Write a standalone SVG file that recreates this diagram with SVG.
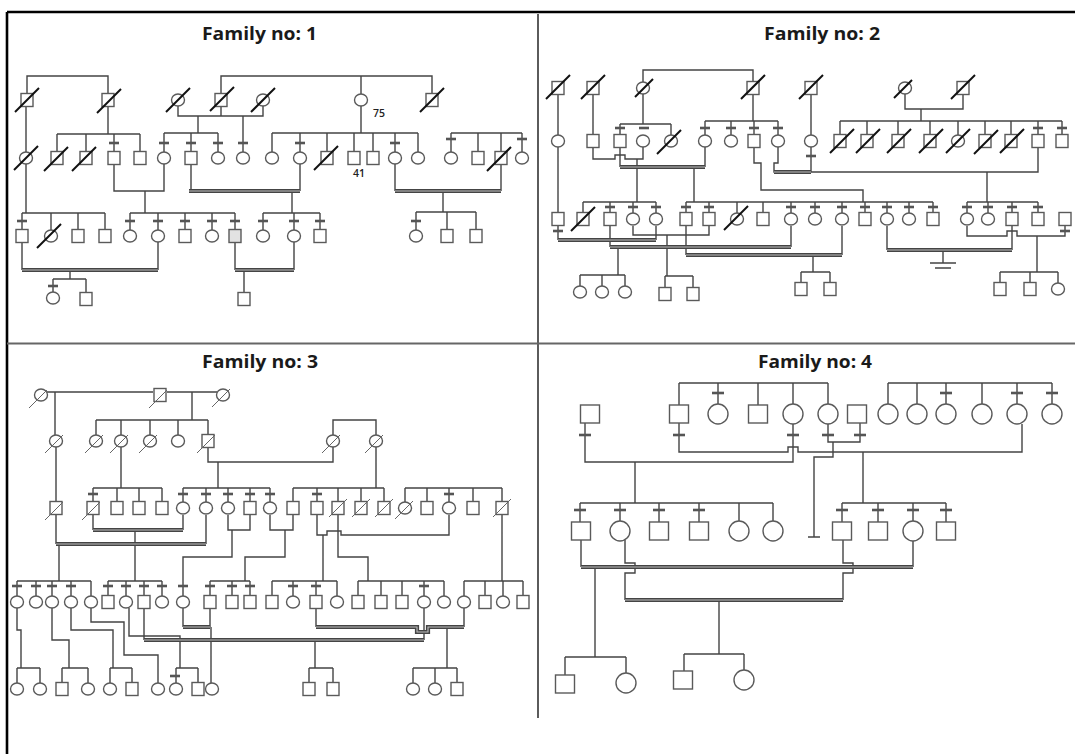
<svg xmlns="http://www.w3.org/2000/svg" xmlns:xlink="http://www.w3.org/1999/xlink" width="1075" height="754" viewBox="0 0 1075 754">
<style>
.n{fill:#fff;stroke:#5a5a5a;stroke-width:1.4}
.gy{fill:#e2e2e2;stroke:#5a5a5a;stroke-width:1.4}
.k{stroke:#111;stroke-width:2}
.k3{stroke:#666;stroke-width:1}
.tk{stroke:#555;stroke-width:2.6}
#connectors path{fill:none;stroke:#444;stroke-width:1.4}
#connectors path.dbl{stroke:#444;stroke-width:4.2}
#connectors path.dbi{stroke:#bdbdbd;stroke-width:1.1}
.ttl{font-family:"Open Sans","Liberation Sans",sans-serif;font-weight:700;font-size:18px;fill:#1a1a1a}
.lbl{font-family:"Open Sans","Liberation Sans",sans-serif;font-weight:600;font-size:10.5px;fill:#222}
</style>
<defs>
<rect id="s" x="-6" y="-6.5" width="12" height="13"/>
<ellipse id="c" rx="6.5" ry="6"/>
<rect id="S" x="-9.5" y="-9" width="19" height="18"/>
<circle id="C" r="10"/>
<line id="d" x1="-12" y1="12" x2="12" y2="-12"/>
<line id="e" x1="-9" y1="9" x2="9" y2="-9"/>
<line id="t" x1="-5" y1="0" x2="5" y2="0"/>
<line id="T" x1="-6" y1="0" x2="6" y2="0"/>
</defs>
<rect width="1075" height="754" fill="#fff"/>
<g id="frame">
<path d="M7 12H1075M7 12V754" stroke="#000" stroke-width="2.6" fill="none"/>
<path d="M538 14V718" stroke="#333" stroke-width="1.6"/>
<path d="M7 343.5H1075" stroke="#666" stroke-width="2"/>
</g>
<g id="titles">
<text class="ttl" x="259.5" y="40" text-anchor="middle" textLength="115" lengthAdjust="spacingAndGlyphs">Family no: 1</text>
<text class="ttl" x="822" y="40" text-anchor="middle" textLength="116" lengthAdjust="spacingAndGlyphs">Family no: 2</text>
<text class="ttl" x="260" y="368" text-anchor="middle" textLength="116" lengthAdjust="spacingAndGlyphs">Family no: 3</text>
<text class="ttl" x="815" y="368" text-anchor="middle" textLength="114" lengthAdjust="spacingAndGlyphs">Family no: 4</text>
</g>
<g id="connectors">
<path d="M27 94V76H108V94M221 94V76H432V94M361 76V94M178 106V116H263V106M221 106V116M198 116V133M243 116V152M361 106V133M26 106V152M26 164V213M108 106V134"/>
<path d="M57 134H140M57 134V152M86 134V152M114 134V152M140 134V152M164 133H218M164 133V152M191 133V152M218 133V152M272 133H418M272 133V152M300 133V152M327 133V152M354 133V152M373 133V152M395 133V152M418 133V152M451 133H522M451 133V152M478 133V152M501 133V152M522 133V152"/>
<path d="M114 164V191H164V164M145 191V213M191 164V191M300 164V191M292 191V213M395 164V191M501 164V191M443 191V212"/>
<path d="M22 213H105M22 213V230M51 213V230M78 213V230M105 213V230M130 213H235M130 213V230M158 213V230M185 213V230M212 213V230M235 213V230M263 213H320M263 213V230M294 213V230M320 213V230M416 212H476M416 212V230M447 212V230M476 212V230"/>
<path d="M22 242V270M158 242V270M70 270V279M53 279H86M53 279V292M86 279V292M235 242V270M294 242V270M244 270V292"/>
<path class="dbl" d="M189 191H300M395 191H501M22 270H158M235 270H294"/>
<path class="dbi" d="M189 191H300M395 191H501M22 270H158M235 270H294"/>
<path d="M643 82V70H753V82M558 94V135M593 94V135M643 94V124M620 124H671M620 124V135M671 124V135M753 94V121M705 121H778M705 121V135M731 121V135M754 121V135M778 121V135M811 94V135M905 94V109H963V94M921 109V121M840 121H1062M840 121V135M867 121V135M898 121V135M930 121V135M958 121V135M985 121V135M1011 121V135M1038 121V135M1062 121V135"/>
<path d="M558 147V213M593 147V159H615V155H625V159H643V147M637 159V202M620 147V167M705 147V167M694 167V202M754 147V163H761V190H863V202M778 147V163H774V172H1038V147M811 147V172M987 172V202"/>
<path d="M583 202H656M583 202V213M610 202V213M633 202V213M656 202V213M686 202H933M686 202V213M709 202V213M737 202V213M763 202V213M791 202V213M815 202V213M842 202V213M865 202V213M887 202V213M909 202V213M933 202V213M967 202H1038M967 202V213M988 202V213M1012 202V213M1038 202V213"/>
<path d="M558 226V240M656 226V240M633 226V235H709V226M610 226V247M791 226V247M618 247V275M580 275H625M580 275V286M602 275V286M625 275V286M686 226V255M842 226V255M813 255V272M801 272H830M801 272V283M830 272V283M667 235V276M665 276H693M665 276V288M693 276V288M887 226V250M1012 226V250M943 250V263M930 263H956M935 268H951M967 226V236H1007V231H1017V236H1065V226M1037 236V272M1000 272H1058M1000 272V283M1030 272V283M1058 272V283"/>
<path class="dbl" d="M620 167H705M774 172H811M558 240H656M610 247H791M686 255H842M887 250H1012"/>
<path class="dbi" d="M620 167H705M774 172H811M558 240H656M610 247H791M686 255H842M887 250H1012"/>
<path d="M47 392H153M167 392H217M55 392V435M192 392V420M96 420H208M96 420V435M121 420V435M150 420V435M178 420V435M208 420V435M56 447V502M333 435V420H376V435"/>
<path d="M121 447V488M93 488H162M93 488V502M117 488V502M139 488V502M162 488V502M208 447V462H333V447M218 462V488M183 488H270M183 488V502M206 488V502M228 488V502M250 488V502M270 488V502M376 447V488M293 488H384M293 488V502M317 488V502M338 488V502M361 488V502M384 488V502M405 488H502M405 488V502M427 488V502M449 488V502M473 488V502M502 488V502"/>
<path d="M56 515V544M206 515V544M93 515V530M183 515V530M135 530V581M108 581H162M108 581V596M126 581V596M144 581V596M162 581V596M59 544V581M17 581H91M17 581V596M36 581V596M52 581V596M71 581V596M91 581V596"/>
<path d="M228 515V530H250V515M232 530V557H183V596M270 515V530H293V515M285 530V557H245V581M210 581H250M210 581V596M232 581V596M250 581V596M317 515V535H327V531H341V535H449V515M323 535V581M272 581H337M272 581V596M293 581V596M316 581V596M337 581V596M338 515V557H368V581M358 581H444M358 581V596M381 581V596M402 581V596M424 581V596M444 581V596M502 515V581M464 581H523M464 581V596M485 581V596M503 581V596M523 581V596"/>
<path d="M17 608V630H21V668M17 668H40M17 668V683M40 668V683M52 608V640H69V668M62 668H88M62 668V683M88 668V683M71 608V630H113V668M110 668H132M110 668V683M132 668V683M91 608V622H124V655H158V683M129 608V636H180V668M176 668H198M176 668V683M198 668V683M183 608V627M210 608V627M211 627V683M144 608V640M424 608V640M315 640V668M309 668H333M309 668V683M333 668V683M316 608V627M464 608V627M447 627V668M413 668H457M413 668V683M435 668V683M457 668V683"/>
<path class="dbl" d="M56 544H206M93 530H183M183 627H210M144 640H424M316 627H417V632H428V627H464"/>
<path class="dbi" d="M56 544H206M93 530H183M183 627H210M144 640H424M316 627H417V632H428V627H464"/>
<path d="M679 383H828M679 383V405M718 383V404M758 383V405M793 383V404M828 383V404M888 383H1052M888 383V404M917 383V404M946 383V404M982 383V404M1017 383V404M1052 383V404"/>
<path d="M585 423V462H793V424M679 423V452H788V447H798V452H1022V424M828 424V442H860V423M833 442V457H814V537M808 537H820M635 462V503M580 503H773M580 503V522M620 503V521M659 503V522M699 503V522M739 503V521M773 503V521M863 452V503M842 503H946M842 503V522M878 503V522M913 503V521M946 503V522"/>
<path d="M581 540V567M913 541V567M625 540V563H635V573H625V600M843 540V563H853V573H843V600M595 567V657M565 657H626M565 657V675M626 657V673M719 600V654M684 654H744M684 654V671M744 654V670"/>
<path class="dbl" d="M581 567H913M625 600H843"/>
<path class="dbi" d="M581 567H913M625 600H843"/>
</g>
<g id="family1">
<g id="f1-a1"><use href="#s" x="27" y="100" class="n"/><use href="#d" x="27" y="100" class="k"/></g>
<g id="f1-a2"><use href="#s" x="108" y="100" class="n"/><use href="#d" x="109" y="101" class="k"/></g>
<g id="f1-a3"><use href="#c" x="178" y="100" class="n"/><use href="#d" x="178" y="100" class="k"/></g>
<g id="f1-a4"><use href="#s" x="221" y="100" class="n"/><use href="#d" x="222" y="99" class="k"/></g>
<g id="f1-a5"><use href="#c" x="263" y="100" class="n"/><use href="#d" x="263" y="100" class="k"/></g>
<g id="f1-a6"><use href="#c" x="361" y="100" class="n"/><text class="lbl" x="373" y="117">75</text></g>
<g id="f1-a7"><use href="#s" x="432" y="100" class="n"/><use href="#d" x="432" y="100" class="k"/></g>
<g id="f1-b1"><use href="#c" x="26" y="158" class="n"/><use href="#d" x="26" y="158" class="k"/></g>
<g id="f1-b2"><use href="#s" x="57" y="158" class="n"/><use href="#d" x="56" y="159" class="k"/></g>
<g id="f1-b3"><use href="#s" x="86" y="158" class="n"/><use href="#d" x="84" y="159" class="k"/></g>
<g id="f1-b4"><use href="#s" x="114" y="158" class="n"/><use href="#t" x="114" y="143" class="tk"/></g>
<g id="f1-b5"><use href="#s" x="140" y="158" class="n"/></g>
<g id="f1-b6"><use href="#c" x="164" y="158" class="n"/><use href="#t" x="164" y="143" class="tk"/></g>
<g id="f1-b7"><use href="#s" x="191" y="158" class="n"/><use href="#t" x="191" y="143" class="tk"/></g>
<g id="f1-b8"><use href="#c" x="218" y="158" class="n"/><use href="#t" x="218" y="143" class="tk"/></g>
<g id="f1-b9"><use href="#c" x="243" y="158" class="n"/><use href="#t" x="243" y="143" class="tk"/></g>
<g id="f1-b10"><use href="#c" x="272" y="158" class="n"/></g>
<g id="f1-b11"><use href="#c" x="300" y="158" class="n"/><use href="#t" x="300" y="143" class="tk"/></g>
<g id="f1-b12"><use href="#s" x="327" y="158" class="n"/><use href="#d" x="326" y="158" class="k"/></g>
<g id="f1-b13"><use href="#s" x="354" y="158" class="n"/><text class="lbl" x="353" y="177">41</text></g>
<g id="f1-b14"><use href="#s" x="373" y="158" class="n"/></g>
<g id="f1-b15"><use href="#c" x="395" y="158" class="n"/><use href="#t" x="395" y="143" class="tk"/></g>
<g id="f1-b16"><use href="#c" x="418" y="158" class="n"/></g>
<g id="f1-b17"><use href="#c" x="451" y="158" class="n"/><use href="#t" x="451" y="139" class="tk"/></g>
<g id="f1-b18"><use href="#s" x="478" y="158" class="n"/></g>
<g id="f1-b19"><use href="#s" x="501" y="158" class="n"/><use href="#d" x="499" y="159" class="k"/></g>
<g id="f1-b20"><use href="#c" x="522" y="158" class="n"/><use href="#t" x="522" y="139" class="tk"/></g>
<g id="f1-c1"><use href="#s" x="22" y="236" class="n"/><use href="#t" x="22" y="221" class="tk"/></g>
<g id="f1-c2"><use href="#c" x="51" y="236" class="n"/><use href="#d" x="49" y="236" class="k"/></g>
<g id="f1-c3"><use href="#s" x="78" y="236" class="n"/></g>
<g id="f1-c4"><use href="#s" x="105" y="236" class="n"/></g>
<g id="f1-c5"><use href="#c" x="130" y="236" class="n"/><use href="#t" x="130" y="221" class="tk"/></g>
<g id="f1-c6"><use href="#c" x="158" y="236" class="n"/><use href="#t" x="158" y="221" class="tk"/></g>
<g id="f1-c7"><use href="#s" x="185" y="236" class="n"/><use href="#t" x="185" y="221" class="tk"/></g>
<g id="f1-c8"><use href="#c" x="212" y="236" class="n"/><use href="#t" x="212" y="221" class="tk"/></g>
<g id="f1-c9"><use href="#s" x="235" y="236" class="gy"/><use href="#t" x="235" y="221" class="tk"/></g>
<g id="f1-c10"><use href="#c" x="263" y="236" class="n"/><use href="#t" x="263" y="221" class="tk"/></g>
<g id="f1-c11"><use href="#c" x="294" y="236" class="n"/><use href="#t" x="294" y="221" class="tk"/></g>
<g id="f1-c12"><use href="#s" x="320" y="236" class="n"/><use href="#t" x="320" y="221" class="tk"/></g>
<g id="f1-c13"><use href="#c" x="416" y="236" class="n"/><use href="#t" x="416" y="221" class="tk"/></g>
<g id="f1-c14"><use href="#s" x="447" y="236" class="n"/></g>
<g id="f1-c15"><use href="#s" x="476" y="236" class="n"/></g>
<g id="f1-d1"><use href="#c" x="53" y="298" class="n"/><use href="#t" x="53" y="286" class="tk"/></g>
<g id="f1-d2"><use href="#s" x="86" y="299" class="n"/></g>
<g id="f1-d3"><use href="#s" x="244" y="299" class="n"/></g>
</g>
<g id="family2">
<g id="f2-e1"><use href="#s" x="558" y="88" class="n"/><use href="#d" x="558" y="87" class="k"/></g>
<g id="f2-e2"><use href="#s" x="593" y="88" class="n"/><use href="#d" x="593" y="87" class="k"/></g>
<g id="f2-e3"><use href="#c" x="643" y="88" class="n"/><use href="#e" x="644" y="88" class="k"/></g>
<g id="f2-e4"><use href="#s" x="753" y="88" class="n"/><use href="#d" x="753" y="87" class="k"/></g>
<g id="f2-e5"><use href="#s" x="811" y="88" class="n"/><use href="#d" x="811" y="87" class="k"/></g>
<g id="f2-e6"><use href="#c" x="905" y="88" class="n"/><use href="#e" x="903" y="89" class="k"/></g>
<g id="f2-e7"><use href="#s" x="963" y="88" class="n"/><use href="#d" x="963" y="87" class="k"/></g>
<g id="f2-f1"><use href="#c" x="558" y="141" class="n"/></g>
<g id="f2-f2"><use href="#s" x="593" y="141" class="n"/></g>
<g id="f2-f3"><use href="#s" x="620" y="141" class="n"/><use href="#t" x="620" y="128" class="tk"/></g>
<g id="f2-f4"><use href="#c" x="643" y="141" class="n"/><use href="#t" x="644" y="128" class="tk"/></g>
<g id="f2-f5"><use href="#c" x="671" y="141" class="n"/><use href="#d" x="669" y="142" class="k"/></g>
<g id="f2-f6"><use href="#c" x="705" y="141" class="n"/><use href="#t" x="705" y="128" class="tk"/></g>
<g id="f2-f7"><use href="#c" x="731" y="141" class="n"/><use href="#t" x="731" y="128" class="tk"/></g>
<g id="f2-f8"><use href="#s" x="754" y="141" class="n"/><use href="#t" x="754" y="128" class="tk"/></g>
<g id="f2-f9"><use href="#c" x="778" y="141" class="n"/><use href="#t" x="778" y="128" class="tk"/></g>
<g id="f2-f10"><use href="#c" x="811" y="141" class="n"/><use href="#t" x="811" y="156" class="tk"/></g>
<g id="f2-f11"><use href="#s" x="840" y="141" class="n"/><use href="#d" x="842" y="141" class="k"/></g>
<g id="f2-f12"><use href="#s" x="867" y="141" class="n"/><use href="#d" x="868" y="141" class="k"/></g>
<g id="f2-f13"><use href="#s" x="898" y="141" class="n"/><use href="#d" x="899" y="141" class="k"/></g>
<g id="f2-f14"><use href="#s" x="930" y="141" class="n"/><use href="#d" x="931" y="141" class="k"/></g>
<g id="f2-f15"><use href="#c" x="958" y="141" class="n"/><use href="#d" x="958" y="141" class="k"/></g>
<g id="f2-f16"><use href="#s" x="985" y="141" class="n"/><use href="#d" x="986" y="142" class="k"/></g>
<g id="f2-f17"><use href="#s" x="1011" y="141" class="n"/><use href="#d" x="1012" y="141" class="k"/></g>
<g id="f2-f18"><use href="#s" x="1038" y="141" class="n"/><use href="#t" x="1038" y="128" class="tk"/></g>
<g id="f2-f19"><use href="#s" x="1062" y="141" class="n"/><use href="#t" x="1062" y="128" class="tk"/></g>
<g id="f2-g1"><use href="#s" x="558" y="219" class="n"/><use href="#t" x="558" y="231" class="tk"/></g>
<g id="f2-g2"><use href="#s" x="583" y="219" class="n"/><use href="#d" x="583" y="219" class="k"/></g>
<g id="f2-g3"><use href="#s" x="610" y="219" class="n"/><use href="#t" x="610" y="207" class="tk"/></g>
<g id="f2-g4"><use href="#c" x="633" y="219" class="n"/><use href="#t" x="633" y="207" class="tk"/></g>
<g id="f2-g5"><use href="#c" x="656" y="219" class="n"/><use href="#t" x="656" y="207" class="tk"/></g>
<g id="f2-g6"><use href="#s" x="686" y="219" class="n"/><use href="#t" x="686" y="207" class="tk"/></g>
<g id="f2-g7"><use href="#s" x="709" y="219" class="n"/><use href="#t" x="709" y="207" class="tk"/></g>
<g id="f2-g8"><use href="#c" x="737" y="219" class="n"/><use href="#d" x="736" y="218" class="k"/></g>
<g id="f2-g9"><use href="#s" x="763" y="219" class="n"/></g>
<g id="f2-g10"><use href="#c" x="791" y="219" class="n"/><use href="#t" x="791" y="207" class="tk"/></g>
<g id="f2-g11"><use href="#c" x="815" y="219" class="n"/><use href="#t" x="815" y="207" class="tk"/></g>
<g id="f2-g12"><use href="#c" x="842" y="219" class="n"/><use href="#t" x="842" y="207" class="tk"/></g>
<g id="f2-g13"><use href="#s" x="865" y="219" class="n"/><use href="#t" x="865" y="207" class="tk"/></g>
<g id="f2-g14"><use href="#c" x="887" y="219" class="n"/><use href="#t" x="887" y="207" class="tk"/></g>
<g id="f2-g15"><use href="#c" x="909" y="219" class="n"/><use href="#t" x="909" y="207" class="tk"/></g>
<g id="f2-g16"><use href="#s" x="933" y="219" class="n"/><use href="#t" x="933" y="207" class="tk"/></g>
<g id="f2-g17"><use href="#c" x="967" y="219" class="n"/><use href="#t" x="967" y="207" class="tk"/></g>
<g id="f2-g18"><use href="#c" x="988" y="219" class="n"/><use href="#t" x="988" y="207" class="tk"/></g>
<g id="f2-g19"><use href="#s" x="1012" y="219" class="n"/><use href="#t" x="1012" y="207" class="tk"/></g>
<g id="f2-g20"><use href="#s" x="1038" y="219" class="n"/><use href="#t" x="1038" y="207" class="tk"/></g>
<g id="f2-g21"><use href="#s" x="1065" y="219" class="n"/><use href="#t" x="1065" y="231" class="tk"/></g>
<g id="f2-h1"><use href="#c" x="580" y="292" class="n"/></g>
<g id="f2-h2"><use href="#c" x="602" y="292" class="n"/></g>
<g id="f2-h3"><use href="#c" x="625" y="292" class="n"/></g>
<g id="f2-h4"><use href="#s" x="665" y="294" class="n"/></g>
<g id="f2-h5"><use href="#s" x="693" y="294" class="n"/></g>
<g id="f2-h6"><use href="#s" x="801" y="289" class="n"/></g>
<g id="f2-h7"><use href="#s" x="830" y="289" class="n"/></g>
<g id="f2-h8"><use href="#s" x="1000" y="289" class="n"/></g>
<g id="f2-h9"><use href="#s" x="1030" y="289" class="n"/></g>
<g id="f2-h10"><use href="#c" x="1058" y="289" class="n"/></g>
</g>
<g id="family3">
<g id="f3-i1"><use href="#c" x="41" y="395" class="n"/><use href="#e" x="38" y="399" class="k3"/></g>
<g id="f3-i2"><use href="#s" x="160" y="395" class="n"/><use href="#e" x="158" y="399" class="k3"/></g>
<g id="f3-i3"><use href="#c" x="223" y="395" class="n"/><use href="#e" x="221" y="398" class="k3"/></g>
<g id="f3-j1"><use href="#c" x="56" y="441" class="n"/><use href="#e" x="54" y="444" class="k3"/></g>
<g id="f3-j2"><use href="#c" x="96" y="441" class="n"/><use href="#e" x="94" y="444" class="k3"/></g>
<g id="f3-j3"><use href="#c" x="121" y="441" class="n"/><use href="#e" x="119" y="444" class="k3"/></g>
<g id="f3-j4"><use href="#c" x="150" y="441" class="n"/><use href="#e" x="148" y="444" class="k3"/></g>
<g id="f3-j5"><use href="#c" x="178" y="441" class="n"/></g>
<g id="f3-j6"><use href="#s" x="208" y="441" class="n"/><use href="#e" x="206" y="444" class="k3"/></g>
<g id="f3-j7"><use href="#c" x="333" y="441" class="n"/><use href="#e" x="331" y="444" class="k3"/></g>
<g id="f3-j8"><use href="#c" x="376" y="441" class="n"/><use href="#e" x="374" y="444" class="k3"/></g>
<g id="f3-k1"><use href="#s" x="56" y="508" class="n"/><use href="#e" x="54" y="511" class="k3"/></g>
<g id="f3-k2"><use href="#s" x="93" y="508" class="n"/><use href="#e" x="91" y="511" class="k3"/><use href="#t" x="93" y="494" class="tk"/></g>
<g id="f3-k3"><use href="#s" x="117" y="508" class="n"/></g>
<g id="f3-k4"><use href="#s" x="139" y="508" class="n"/></g>
<g id="f3-k5"><use href="#s" x="162" y="508" class="n"/></g>
<g id="f3-k6"><use href="#c" x="183" y="508" class="n"/><use href="#t" x="183" y="494" class="tk"/></g>
<g id="f3-k7"><use href="#c" x="206" y="508" class="n"/><use href="#t" x="206" y="494" class="tk"/></g>
<g id="f3-k8"><use href="#c" x="228" y="508" class="n"/><use href="#t" x="228" y="494" class="tk"/></g>
<g id="f3-k9"><use href="#s" x="250" y="508" class="n"/><use href="#t" x="250" y="494" class="tk"/></g>
<g id="f3-k10"><use href="#c" x="270" y="508" class="n"/><use href="#t" x="270" y="494" class="tk"/></g>
<g id="f3-k11"><use href="#s" x="293" y="508" class="n"/></g>
<g id="f3-k12"><use href="#s" x="317" y="508" class="n"/><use href="#t" x="317" y="494" class="tk"/></g>
<g id="f3-k13"><use href="#s" x="338" y="508" class="n"/><use href="#e" x="338" y="508" class="k3"/></g>
<g id="f3-k14"><use href="#s" x="361" y="508" class="n"/><use href="#e" x="361" y="508" class="k3"/></g>
<g id="f3-k15"><use href="#s" x="384" y="508" class="n"/><use href="#e" x="384" y="508" class="k3"/></g>
<g id="f3-k16"><use href="#c" x="405" y="508" class="n"/><use href="#e" x="404" y="510" class="k3"/></g>
<g id="f3-k17"><use href="#s" x="427" y="508" class="n"/></g>
<g id="f3-k18"><use href="#c" x="449" y="508" class="n"/><use href="#t" x="449" y="494" class="tk"/></g>
<g id="f3-k19"><use href="#s" x="473" y="508" class="n"/></g>
<g id="f3-k20"><use href="#s" x="502" y="508" class="n"/><use href="#e" x="502" y="508" class="k3"/></g>
<g id="f3-l1"><use href="#c" x="17" y="602" class="n"/><use href="#t" x="17" y="586" class="tk"/></g>
<g id="f3-l2"><use href="#c" x="36" y="602" class="n"/><use href="#t" x="36" y="586" class="tk"/></g>
<g id="f3-l3"><use href="#c" x="52" y="602" class="n"/><use href="#t" x="52" y="586" class="tk"/></g>
<g id="f3-l4"><use href="#c" x="71" y="602" class="n"/><use href="#t" x="71" y="586" class="tk"/></g>
<g id="f3-l5"><use href="#c" x="91" y="602" class="n"/></g>
<g id="f3-l6"><use href="#s" x="108" y="602" class="n"/><use href="#t" x="108" y="586" class="tk"/></g>
<g id="f3-l7"><use href="#c" x="126" y="602" class="n"/><use href="#t" x="126" y="586" class="tk"/></g>
<g id="f3-l8"><use href="#s" x="144" y="602" class="n"/><use href="#t" x="144" y="586" class="tk"/></g>
<g id="f3-l9"><use href="#c" x="162" y="602" class="n"/><use href="#t" x="162" y="586" class="tk"/></g>
<g id="f3-l10"><use href="#c" x="183" y="602" class="n"/><use href="#t" x="183" y="586" class="tk"/></g>
<g id="f3-l11"><use href="#s" x="210" y="602" class="n"/><use href="#t" x="210" y="586" class="tk"/></g>
<g id="f3-l12"><use href="#s" x="232" y="602" class="n"/><use href="#t" x="232" y="586" class="tk"/></g>
<g id="f3-l13"><use href="#s" x="250" y="602" class="n"/><use href="#t" x="250" y="586" class="tk"/></g>
<g id="f3-l14"><use href="#s" x="272" y="602" class="n"/></g>
<g id="f3-l15"><use href="#c" x="293" y="602" class="n"/><use href="#t" x="293" y="586" class="tk"/></g>
<g id="f3-l16"><use href="#s" x="316" y="602" class="n"/><use href="#t" x="316" y="586" class="tk"/></g>
<g id="f3-l17"><use href="#c" x="337" y="602" class="n"/></g>
<g id="f3-l18"><use href="#s" x="358" y="602" class="n"/></g>
<g id="f3-l19"><use href="#s" x="381" y="602" class="n"/></g>
<g id="f3-l20"><use href="#s" x="402" y="602" class="n"/></g>
<g id="f3-l21"><use href="#c" x="424" y="602" class="n"/><use href="#t" x="424" y="586" class="tk"/></g>
<g id="f3-l22"><use href="#c" x="444" y="602" class="n"/></g>
<g id="f3-l23"><use href="#c" x="464" y="602" class="n"/></g>
<g id="f3-l24"><use href="#s" x="485" y="602" class="n"/></g>
<g id="f3-l25"><use href="#c" x="503" y="602" class="n"/></g>
<g id="f3-l26"><use href="#s" x="523" y="602" class="n"/></g>
<g id="f3-m1"><use href="#c" x="17" y="689" class="n"/></g>
<g id="f3-m2"><use href="#c" x="40" y="689" class="n"/></g>
<g id="f3-m3"><use href="#s" x="62" y="689" class="n"/></g>
<g id="f3-m4"><use href="#c" x="88" y="689" class="n"/></g>
<g id="f3-m5"><use href="#c" x="110" y="689" class="n"/></g>
<g id="f3-m6"><use href="#s" x="132" y="689" class="n"/></g>
<g id="f3-m7"><use href="#c" x="158" y="689" class="n"/></g>
<g id="f3-m8"><use href="#c" x="176" y="689" class="n"/><use href="#t" x="175" y="676" class="tk"/></g>
<g id="f3-m9"><use href="#s" x="198" y="689" class="n"/></g>
<g id="f3-m10"><use href="#c" x="212" y="689" class="n"/></g>
<g id="f3-m11"><use href="#s" x="309" y="689" class="n"/></g>
<g id="f3-m12"><use href="#s" x="333" y="689" class="n"/></g>
<g id="f3-m13"><use href="#c" x="413" y="689" class="n"/></g>
<g id="f3-m14"><use href="#c" x="435" y="689" class="n"/></g>
<g id="f3-m15"><use href="#s" x="457" y="689" class="n"/></g>
</g>
<g id="family4">
<g id="f4-n1"><use href="#S" x="590" y="414" class="n"/><use href="#T" x="585" y="435" class="tk"/></g>
<g id="f4-n2"><use href="#S" x="679" y="414" class="n"/><use href="#T" x="679" y="435" class="tk"/></g>
<g id="f4-n3"><use href="#C" x="718" y="414" class="n"/><use href="#T" x="718" y="393" class="tk"/></g>
<g id="f4-n4"><use href="#S" x="758" y="414" class="n"/></g>
<g id="f4-n5"><use href="#C" x="793" y="414" class="n"/><use href="#T" x="793" y="435" class="tk"/></g>
<g id="f4-n6"><use href="#C" x="828" y="414" class="n"/><use href="#T" x="828" y="435" class="tk"/></g>
<g id="f4-n7"><use href="#S" x="857" y="414" class="n"/><use href="#T" x="860" y="435" class="tk"/></g>
<g id="f4-n8"><use href="#C" x="888" y="414" class="n"/></g>
<g id="f4-n9"><use href="#C" x="917" y="414" class="n"/></g>
<g id="f4-n10"><use href="#C" x="946" y="414" class="n"/><use href="#T" x="946" y="393" class="tk"/></g>
<g id="f4-n11"><use href="#C" x="982" y="414" class="n"/></g>
<g id="f4-n12"><use href="#C" x="1017" y="414" class="n"/><use href="#T" x="1017" y="393" class="tk"/></g>
<g id="f4-n13"><use href="#C" x="1052" y="414" class="n"/><use href="#T" x="1052" y="393" class="tk"/></g>
<g id="f4-o1"><use href="#S" x="581" y="531" class="n"/><use href="#T" x="580" y="510" class="tk"/></g>
<g id="f4-o2"><use href="#C" x="620" y="531" class="n"/><use href="#T" x="620" y="510" class="tk"/></g>
<g id="f4-o3"><use href="#S" x="659" y="531" class="n"/><use href="#T" x="659" y="510" class="tk"/></g>
<g id="f4-o4"><use href="#S" x="699" y="531" class="n"/><use href="#T" x="699" y="510" class="tk"/></g>
<g id="f4-o5"><use href="#C" x="739" y="531" class="n"/></g>
<g id="f4-o6"><use href="#C" x="773" y="531" class="n"/></g>
<g id="f4-o7"><use href="#S" x="842" y="531" class="n"/><use href="#T" x="842" y="510" class="tk"/></g>
<g id="f4-o8"><use href="#S" x="878" y="531" class="n"/><use href="#T" x="878" y="510" class="tk"/></g>
<g id="f4-o9"><use href="#C" x="913" y="531" class="n"/><use href="#T" x="913" y="510" class="tk"/></g>
<g id="f4-o10"><use href="#S" x="946" y="531" class="n"/><use href="#T" x="946" y="510" class="tk"/></g>
<g id="f4-p1"><use href="#S" x="565" y="684" class="n"/></g>
<g id="f4-p2"><use href="#C" x="626" y="683" class="n"/></g>
<g id="f4-p3"><use href="#S" x="683" y="680" class="n"/></g>
<g id="f4-p4"><use href="#C" x="744" y="680" class="n"/></g>
</g>
</svg>
